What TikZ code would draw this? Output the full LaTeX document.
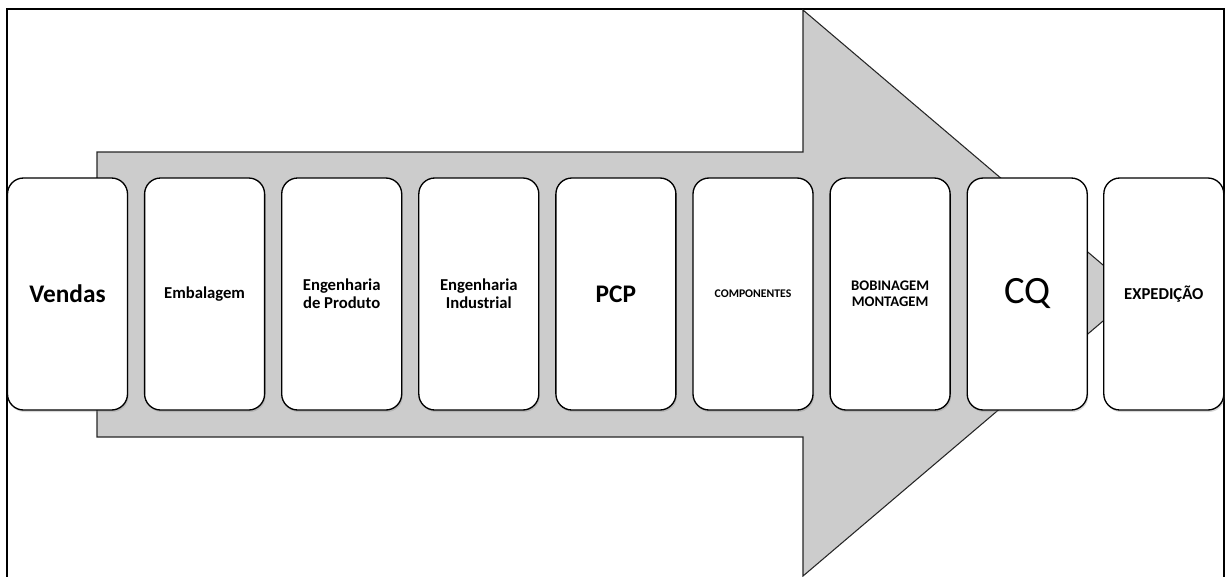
\documentclass[tikz,border=0pt]{standalone}
\usepackage{fontspec}
\setmainfont{Carlito}
\usetikzlibrary{shadows}
\tikzset{
  etapa/.style={draw, line width=1pt, rounded corners=12pt, fill=white,
    minimum width=90pt, minimum height=174pt, align=center, inner sep=2pt,
    drop shadow={shadow xshift=0.8pt, shadow yshift=-1.5pt, opacity=0.3}},
  seta/.style={draw=black!85, line width=0.8pt, fill=black!20},
}
\newcommand{\fs}[1]{\fontsize{#1}{1.1\dimexpr#1pt\relax}\selectfont}
\begin{document}
\begin{tikzpicture}[x=0.75pt, y=-0.75pt]
      \useasboundingbox (0,0) rectangle (1226,576);
      % moldura
      \draw[line width=1.1pt] (7,580) -- (7,9) -- (1224,9) -- (1224,580);
      % seta do fluxo
      \draw[seta] (97,152) -- (803,152) -- (803,10) -- (1136,293)
        -- (803,576) -- (803,437) -- (97,437) -- cycle;
      % etapas
      \draw
        (67.5,294) node[etapa, font=\fs{19}\bfseries] (0){Vendas}
        (204.6,294) node[etapa, font=\fs{12.5}\bfseries] (1){Embalagem}
        (341.7,294) node[etapa, font=\fs{12.5}\bfseries] (2){Engenharia\\de Produto}
        (478.8,294) node[etapa, font=\fs{12.5}\bfseries] (3){Engenharia\\Industrial}
        (615.9,294) node[etapa, font=\fs{19}\bfseries] (4){PCP}
        (753,294) node[etapa, font=\fs{8.8}\bfseries] (5){COMPONENTES}
        (890.1,294) node[etapa, font=\fs{11}\bfseries] (6){BOBINAGEM\\MONTAGEM}
        (1027.2,294) node[etapa, font=\fs{29}] (7){CQ}
        (1163.8,294) node[etapa, font=\fs{12.5}\bfseries] (8){EXPEDIÇÃO};
    \end{tikzpicture}
\end{document}
